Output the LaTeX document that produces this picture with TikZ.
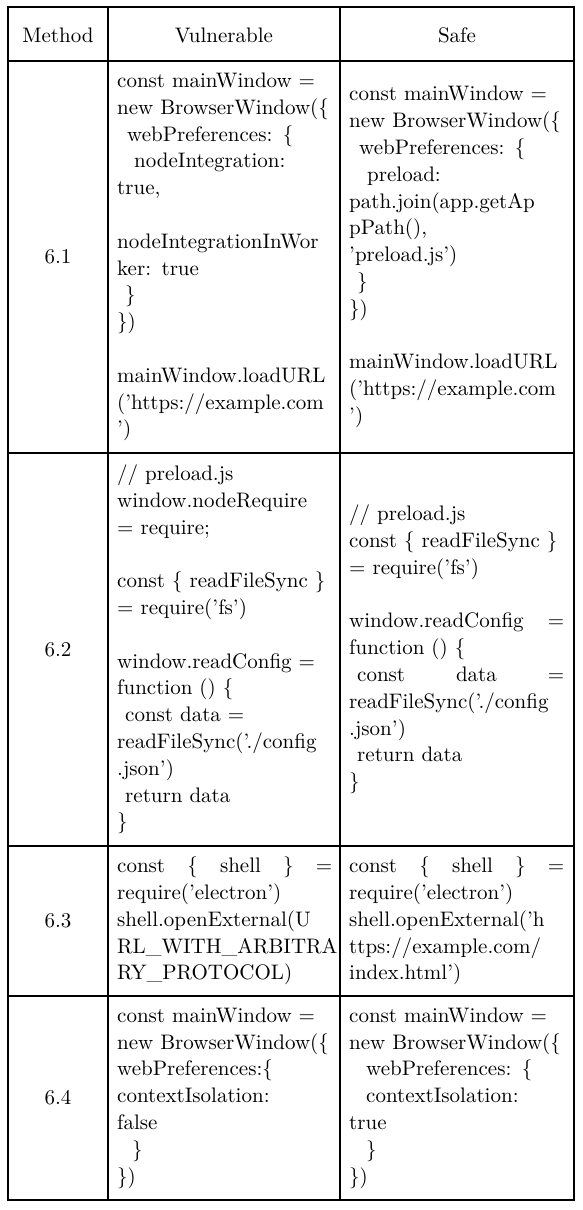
\documentclass[tikz,border=0pt]{standalone}
\usepackage{fontspec}
\setmainfont{lmroman10-regular.otf}
\newlength\cellw
\setlength\cellw{215pt}
\newcommand\jline[1]{\leavevmode\hbox to \cellw{#1}}
\newcommand\blankln{\mbox{}}
\begin{document}
\begin{tikzpicture}[x=1pt,y=-1pt,
  rule/.style={line width=1.3pt,black},
  codecell/.style={anchor=west,align=left,text width=235pt,inner sep=0pt,
    font=\fontsize{21pt}{26.8pt}\selectfont\hyphenpenalty10000\exhyphenpenalty10000},
  headcell/.style={anchor=center,inner sep=0pt,font=\fontsize{21pt}{26.8pt}\selectfont}]
\useasboundingbox (0,0) rectangle (582,1210);
% grid
\draw[rule] (8,7) rectangle (574,1200);
\draw[rule] (108,7) -- (108,1200);
\draw[rule] (340,7) -- (340,1200);
\draw[rule] (8,61) -- (574,61);
\draw[rule] (8,453) -- (574,453);
\draw[rule] (8,846) -- (574,846);
\draw[rule] (8,996) -- (574,996);
% header
\node[headcell] (hm) at (58,35) {Method};
\node[headcell] (hv) at (224,35) {Vulnerable};
\node[headcell] (hs) at (457,35) {Safe};
% method labels
\node[headcell] (m1) at (58,257) {6.1};
\node[headcell] (m2) at (58,649.5) {6.2};
\node[headcell] (m3) at (58,921) {6.3};
\node[headcell] (m4) at (58,1098) {6.4};
% row 6.1
\node[codecell] (v1) at (117,257) {const mainWindow =\\
new BrowserWindow(\{\\
\hspace*{10pt}webPreferences: \{\\
\hspace*{17pt}nodeIntegration:\\
true,\\
\blankln\\
nodeIntegrationInWor\\
ker: true\\
\hspace*{8pt}\}\\
\})\\
\blankln\\
mainWindow.loadURL\\
('https://example.com\\
')};
\node[codecell] (s1) at (349,257) {const mainWindow =\\
new BrowserWindow(\{\\
\hspace*{10pt}webPreferences: \{\\
\hspace*{18pt}preload:\\
path.join(app.getAp\\
pPath(),\\
'preload.js')\\
\hspace*{8pt}\}\\
\})\\
\blankln\\
mainWindow.loadURL\\
('https://example.com\\
')};
% row 6.2
\node[codecell] (v2) at (117,649.5) {// preload.js\\
window.nodeRequire\\
= require;\\
\blankln\\
const \{ readFileSync \}\\
= require('fs')\\
\blankln\\
window.readConfig =\\
function () \{\\
\hspace*{8pt}const data =\\
readFileSync('./config\\
.json')\\
\hspace*{8pt}return data\\
\}};
\node[codecell] (s2) at (349,649.5) {// preload.js\\
const \{ readFileSync \}\\
= require('fs')\\
\blankln\\
\jline{window.readConfig\hfill=}\\
function () \{\\
\jline{\hspace*{8pt}const\hfill data\hfill=}\\
readFileSync('./config\\
.json')\\
\hspace*{8pt}return data\\
\}};
% row 6.3
\node[codecell] (v3) at (117,921) {\jline{const\hfill\{\hfill shell\hfill\}\hfill=}\\
require('electron')\\
shell.openExternal(U\\
RL\_WITH\_ARBITRA\\
RY\_PROTOCOL)};
\node[codecell] (s3) at (349,921) {\jline{const\hfill\{\hfill shell\hfill\}\hfill=}\\
require('electron')\\
shell.openExternal('h\\
ttps://example.com/\\
index.html')};
% row 6.4
\node[codecell] (v4) at (117,1098) {const mainWindow =\\
new BrowserWindow(\{\\
webPreferences:\{\\
contextIsolation:\\
false\\
\hspace*{15pt}\}\\
\})};
\node[codecell] (s4) at (349,1098) {const mainWindow =\\
new BrowserWindow(\{\\
\hspace*{17pt}webPreferences: \{\\
\hspace*{17pt}contextIsolation:\\
true\\
\hspace*{17pt}\}\\
\})};
\end{tikzpicture}
\end{document}
